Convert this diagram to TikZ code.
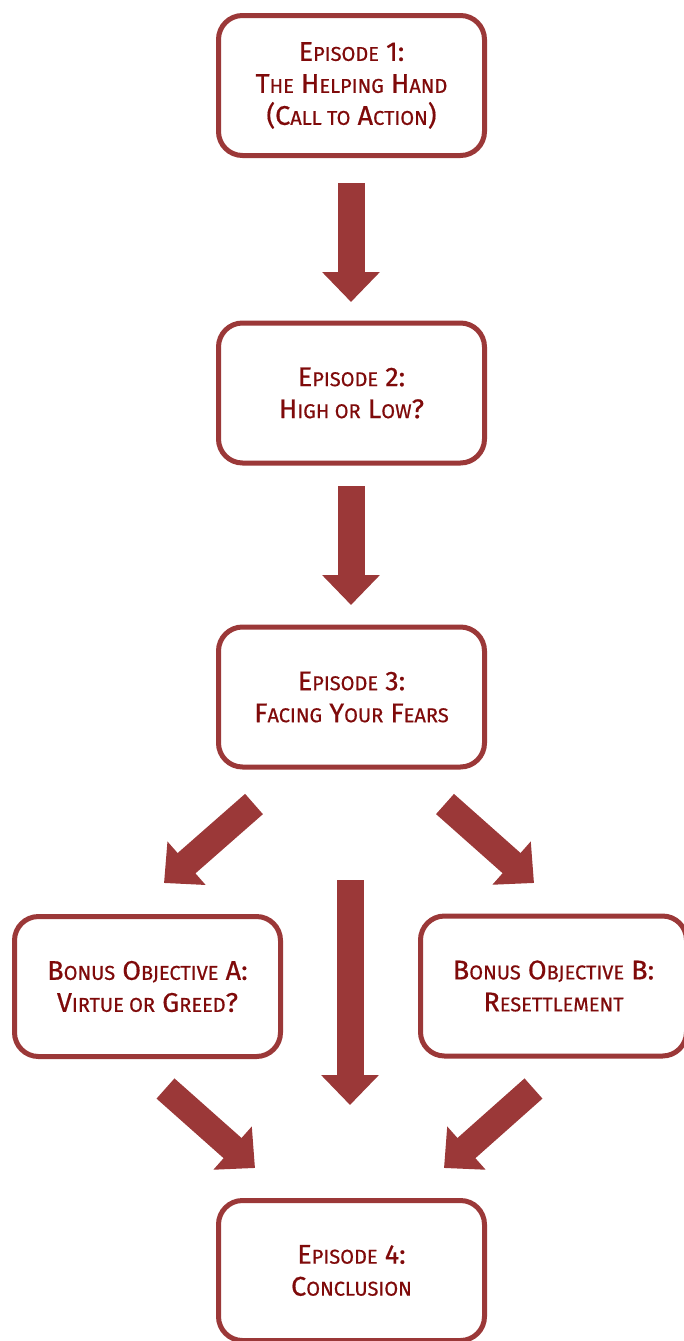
\documentclass[tikz,border=0pt]{standalone}
\usepackage{fontspec}
\setmainfont{Fira Sans}
\newfontfamily\labfont{Fira Sans}[FakeBold=0.6]
\usetikzlibrary{arrows.meta}
\definecolor{arrowred}{HTML}{9B3838}
\definecolor{textred}{HTML}{7F0A0A}
\newcommand\sm[1]{{\fontsize{20}{32}\selectfont #1}}
\tikzset{
  box/.style={draw=arrowred, line width=5pt, rounded corners=24pt, fill=white,
    minimum width=266pt, minimum height=140pt, align=center, text=textred,
    font=\labfont\fontsize{27}{32}\selectfont, inner sep=0pt},
  blockarrow/.style={draw=arrowred, line width=27pt, line cap=butt,
    -{Triangle[width=56pt,length=30pt]}},
}
\begin{document}
\begin{tikzpicture}[x=1pt,y=-1pt]
\useasboundingbox (0,0) rectangle (684,1341);
\node[box] (e1) at (351.5,85.5) {E\sm{PISODE} 1:\\T\sm{HE} H\sm{ELPING} H\sm{AND}\\(C\sm{ALL TO} A\sm{CTION})};
\node[box] (e2) at (351.5,393) {E\sm{PISODE} 2:\\H\sm{IGH OR} L\sm{OW}?};
\node[box] (e3) at (351.5,697) {E\sm{PISODE} 3:\\F\sm{ACING} Y\sm{OUR} F\sm{EARS}};
\node[box] (ba) at (147.5,986.5) {B\sm{ONUS} O\sm{BJECTIVE} A:\\V\sm{IRTUE OR} G\sm{REED}?};
\node[box] (bb) at (553.5,986) {B\sm{ONUS} O\sm{BJECTIVE} B:\\R\sm{ESETTLEMENT}};
\node[box] (e4) at (351.5,1270.5) {E\sm{PISODE} 4:\\C\sm{ONCLUSION}};
% arrow ends
\coordinate (a1s) at (351,183);   \coordinate (a1e) at (351,302);
\coordinate (a2s) at (351,486);   \coordinate (a2e) at (351,605);
\coordinate (a3s) at (254,804);   \coordinate (a3e) at (164,883);
\coordinate (a4s) at (445,804);   \coordinate (a4e) at (534,883);
\coordinate (a5s) at (350,880);   \coordinate (a5e) at (350,1105);
\coordinate (a6s) at (165.5,1088.5); \coordinate (a6e) at (255,1168);
\coordinate (a7s) at (533.5,1088.5); \coordinate (a7e) at (444,1168);
\draw[blockarrow] (a1s) -- (a1e);
\draw[blockarrow] (a2s) -- (a2e);
\draw[blockarrow] (a3s) -- (a3e);
\draw[blockarrow] (a4s) -- (a4e);
\draw[blockarrow] (a5s) -- (a5e);
\draw[blockarrow] (a6s) -- (a6e);
\draw[blockarrow] (a7s) -- (a7e);
\end{tikzpicture}
\end{document}
